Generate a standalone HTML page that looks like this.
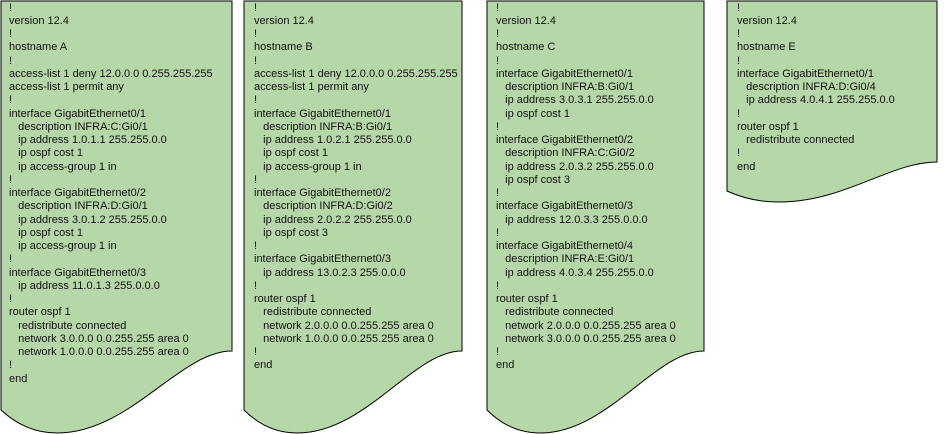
<!DOCTYPE html>
<html><head><meta charset="utf-8"><style>
html,body{margin:0;padding:0;background:#fff;}
body{width:945px;height:434px;position:relative;overflow:hidden;}
svg{position:absolute;left:0;top:0;}
.t{position:absolute;font-family:"Liberation Sans",Arial,sans-serif;font-size:11px;line-height:13.25px;color:#111;white-space:pre;top:1.5px;}
</style></head><body>
<svg width="945" height="434" viewBox="0 0 945 434">
<g fill="#b6d7a8" stroke="#000" stroke-width="1">
<path d="M1 1 H232 V351 C180 351 130 433 57 433 C32 433 14 422 1 410 Z"/>
<path d="M244 1 H462 V351 C413 351 366 433 297 433 C273 433 256 422 244 410 Z"/>
<path d="M487 1 H704 V351 C655 351 608 433 540 433 C516 433 499 422 487 410 Z"/>
<path d="M727 1 H937 V162 C890 162 845 202 779 202 C756 202 740 197 727 191 Z"/>
</g>
</svg>
<div class="t" style="left:9px">!
version 12.4
!
hostname A
!
access-list 1 deny 12.0.0.0 0.255.255.255
access-list 1 permit any
!
interface GigabitEthernet0/1
   description INFRA:C:Gi0/1
   ip address 1.0.1.1 255.255.0.0
   ip ospf cost 1
   ip access-group 1 in
!
interface GigabitEthernet0/2
   description INFRA:D:Gi0/1
   ip address 3.0.1.2 255.255.0.0
   ip ospf cost 1
   ip access-group 1 in
!
interface GigabitEthernet0/3
   ip address 11.0.1.3 255.0.0.0
!
router ospf 1
   redistribute connected
   network 3.0.0.0 0.0.255.255 area 0
   network 1.0.0.0 0.0.255.255 area 0
!
end</div>
<div class="t" style="left:254px">!
version 12.4
!
hostname B
!
access-list 1 deny 12.0.0.0 0.255.255.255
access-list 1 permit any
!
interface GigabitEthernet0/1
   description INFRA:B:Gi0/1
   ip address 1.0.2.1 255.255.0.0
   ip ospf cost 1
   ip access-group 1 in
!
interface GigabitEthernet0/2
   description INFRA:D:Gi0/2
   ip address 2.0.2.2 255.255.0.0
   ip ospf cost 3
!
interface GigabitEthernet0/3
   ip address 13.0.2.3 255.0.0.0
!
router ospf 1
   redistribute connected
   network 2.0.0.0 0.0.255.255 area 0
   network 1.0.0.0 0.0.255.255 area 0
!
end</div>
<div class="t" style="left:496px">!
version 12.4
!
hostname C
!
interface GigabitEthernet0/1
   description INFRA:B:Gi0/1
   ip address 3.0.3.1 255.255.0.0
   ip ospf cost 1
!
interface GigabitEthernet0/2
   description INFRA:C:Gi0/2
   ip address 2.0.3.2 255.255.0.0
   ip ospf cost 3
!
interface GigabitEthernet0/3
   ip address 12.0.3.3 255.0.0.0
!
interface GigabitEthernet0/4
   description INFRA:E:Gi0/1
   ip address 4.0.3.4 255.255.0.0
!
router ospf 1
   redistribute connected
   network 2.0.0.0 0.0.255.255 area 0
   network 3.0.0.0 0.0.255.255 area 0
!
end</div>
<div class="t" style="left:737px">!
version 12.4
!
hostname E
!
interface GigabitEthernet0/1
   description INFRA:D:Gi0/4
   ip address 4.0.4.1 255.255.0.0
!
router ospf 1
   redistribute connected
!
end</div>
</body></html>
